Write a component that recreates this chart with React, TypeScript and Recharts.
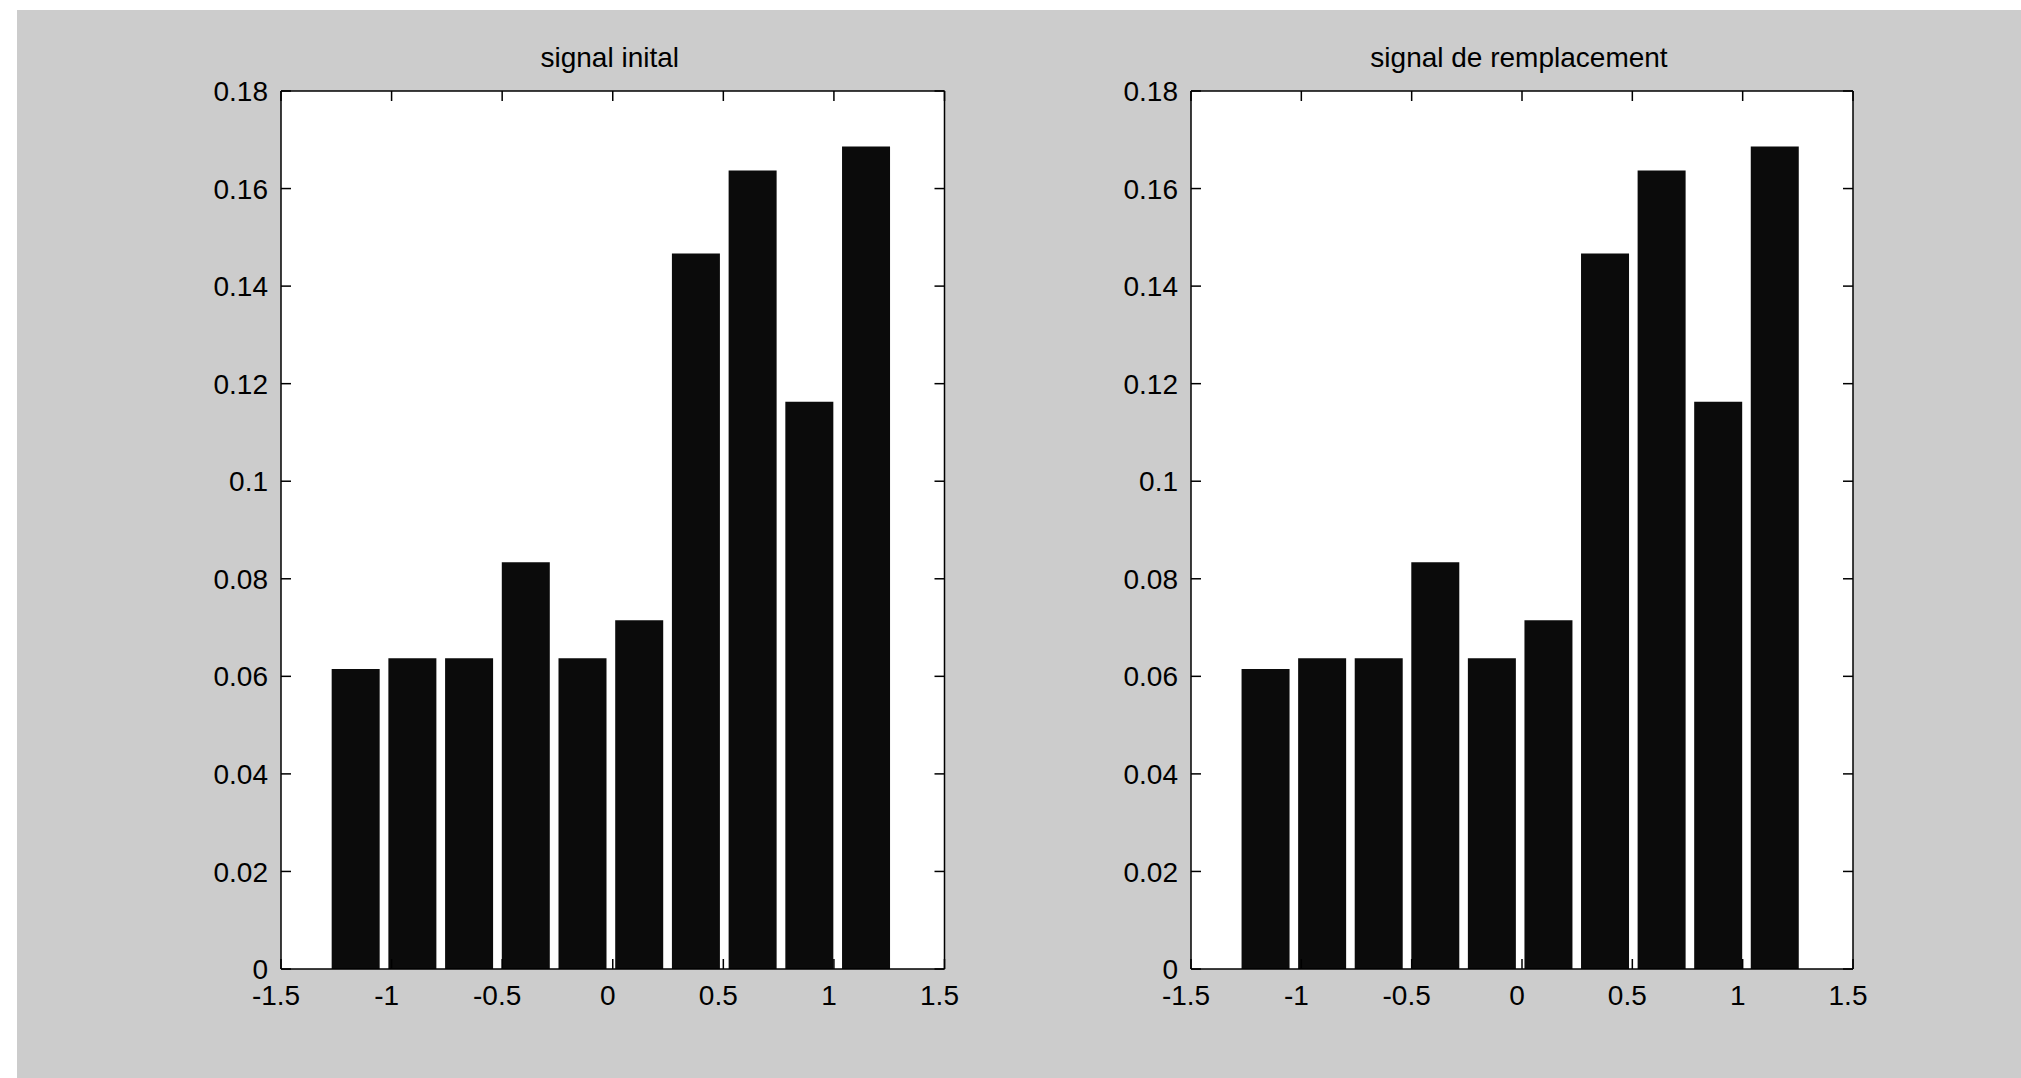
import { BarChart, Bar, XAxis, YAxis, CartesianGrid } from "recharts";

// bin centres of the histogram
const binCenters = [-1.1632, -0.9068, -0.6504, -0.394, -0.1376, 0.1188, 0.3752, 0.6316, 0.888, 1.1444];
const initialFreq = [0.0615, 0.0637, 0.0637, 0.0834, 0.0637, 0.0715, 0.1467, 0.1637, 0.1163, 0.1686];
const replacementFreq = [0.0615, 0.0637, 0.0637, 0.0834, 0.0637, 0.0715, 0.1467, 0.1637, 0.1163, 0.1686];
const xTicks = [-1.5, -1, -0.5, 0, 0.5, 1, 1.5];
const yTicks = [0, 0.02, 0.04, 0.06, 0.08, 0.1, 0.12, 0.14, 0.16, 0.18];
const titles = ["signal inital", "signal de remplacement"];

const FONT = "'Liberation Sans', Arial, Helvetica, sans-serif";
const FONT_SIZE = 28;
const TICK_LEN = 10;
const LINE_W = 1.5;

const BottomTick = ({ x, y, payload }: any) => (
  <g>
    <line x1={x} x2={x} y1={y - 26} y2={y - 26 - TICK_LEN} stroke="#000" strokeWidth={LINE_W} />
    <text x={x - 5} y={y} dy="0.36em" textAnchor="middle" fontSize={FONT_SIZE} fontFamily={FONT} fill="#000">
      {payload.value}
    </text>
  </g>
);

const LeftTick = ({ x, y, payload }: any) => (
  <g>
    <line x1={x + 13} x2={x + 13 + TICK_LEN} y1={y} y2={y} stroke="#000" strokeWidth={LINE_W} />
    <text x={x} y={y} dy="0.36em" textAnchor="end" fontSize={FONT_SIZE} fontFamily={FONT} fill="#000">
      {payload.value}
    </text>
  </g>
);

const TopTick = ({ x, y }: any) => (
  <line x1={x} x2={x} y1={y} y2={y + TICK_LEN} stroke="#000" strokeWidth={LINE_W} />
);

const RightTick = ({ x, y }: any) => (
  <line x1={x - TICK_LEN} x2={x} y1={y} y2={y} stroke="#000" strokeWidth={LINE_W} />
);

interface HistPanelProps {
  title: string;
  values: number[];
  left: number;
  width: number;
  plotLeft: number;
  plotRight: number;
}

function HistPanel({ title, values, left, width, plotLeft, plotRight }: HistPanelProps) {
  const data = binCenters.map((x, i) => ({ x, p: values[i] }));
  const axisLine = { stroke: "#000", strokeWidth: LINE_W };
  return (
    <div style={{ position: "absolute", left, top: 0, width, height: 1078 }}>
      <div
        style={{
          position: "absolute",
          left: plotLeft - left - 3,
          width: plotRight - plotLeft,
          top: 44,
          textAlign: "center",
          fontFamily: FONT,
          fontSize: FONT_SIZE,
          lineHeight: "28px",
          color: "#000",
        }}
      >
        {title}
      </div>
      <BarChart
        width={width}
        height={1078}
        data={data}
        barCategoryGap="8%"
        margin={{ top: 90, left: plotLeft - left - 60, right: left + width - plotRight - 1, bottom: 59 }}
      >
        <CartesianGrid fill="#fff" horizontal={false} vertical={false} />
        <XAxis
          type="number"
          dataKey="x"
          domain={[-1.5, 1.5]}
          ticks={xTicks}
          interval={0}
          allowDataOverflow
          height={50}
          tickSize={0}
          tickMargin={26}
          axisLine={axisLine}
          tick={<BottomTick />}
        />
        <XAxis
          xAxisId="top"
          orientation="top"
          type="number"
          dataKey="x"
          domain={[-1.5, 1.5]}
          ticks={xTicks}
          interval={0}
          allowDataOverflow
          height={1}
          tickSize={0}
          tickMargin={0}
          axisLine={axisLine}
          tick={<TopTick />}
        />
        <YAxis
          type="number"
          domain={[0, 0.18]}
          ticks={yTicks}
          interval={0}
          allowDataOverflow
          width={60}
          tickSize={0}
          tickMargin={13}
          axisLine={axisLine}
          tick={<LeftTick />}
        />
        <YAxis
          yAxisId="right"
          orientation="right"
          type="number"
          domain={[0, 0.18]}
          ticks={yTicks}
          interval={0}
          allowDataOverflow
          width={1}
          tickSize={0}
          tickMargin={0}
          axisLine={axisLine}
          tick={<RightTick />}
        />
        <Bar dataKey="p" fill="#0b0b0b" isAnimationActive={false} />
      </BarChart>
    </div>
  );
}

export default function App() {
  return (
    <div style={{ position: "absolute", left: 0, top: 0, width: 2021, height: 1078, background: "#fff" }}>
      <div style={{ position: "absolute", left: 17, top: 10, width: 2004, height: 1068, background: "#cccccc" }} />
      <HistPanel title={titles[0]} values={initialFreq} left={0} width={1000} plotLeft={281} plotRight={944.5} />
      <HistPanel title={titles[1]} values={replacementFreq} left={1000} width={1021} plotLeft={1191} plotRight={1853} />
    </div>
  );
}
